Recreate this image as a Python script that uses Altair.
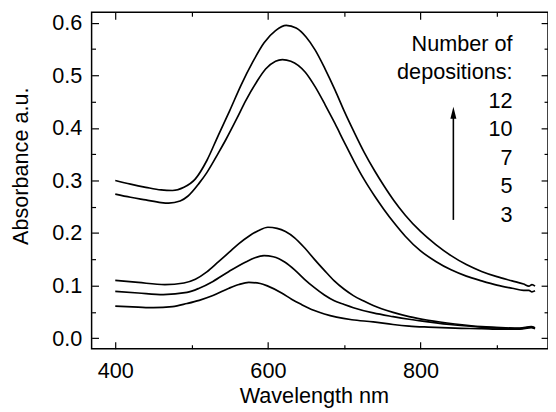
import altair as alt
import pandas as pd

# ---- data ----
wl_12 = [400, 420, 440, 460, 475, 490, 505, 520, 535, 550, 565, 580, 595, 610, 624, 637, 650, 662, 675, 688,
         700, 713, 726, 740, 752, 765, 780, 800, 820, 840, 860, 880, 900, 920, 935, 942, 946, 950]
abs_12 = [0.300, 0.293, 0.287, 0.282, 0.281, 0.287, 0.303, 0.338, 0.386, 0.433, 0.482, 0.525, 0.562, 0.585, 0.595,
          0.590, 0.573, 0.548, 0.512, 0.472, 0.432, 0.392, 0.354, 0.318, 0.290, 0.262, 0.234, 0.203, 0.178, 0.157,
          0.140, 0.127, 0.117, 0.109, 0.103, 0.099, 0.102, 0.099]

wl_10 = [400, 420, 440, 460, 470, 485, 495, 510, 520, 535, 545, 560, 571, 585, 597, 610, 619, 630, 649, 662,
         675, 688, 700, 713, 726, 740, 752, 765, 780, 800, 820, 840, 860, 880, 900, 920, 935, 942, 946, 950]
abs_10 = [0.274, 0.268, 0.263, 0.258, 0.257, 0.261, 0.270, 0.295, 0.315, 0.352, 0.378, 0.420, 0.452, 0.487, 0.512,
          0.527, 0.530, 0.527, 0.506, 0.478, 0.444, 0.408, 0.373, 0.336, 0.302, 0.270, 0.245, 0.220, 0.194, 0.166,
          0.146, 0.130, 0.118, 0.109, 0.101, 0.095, 0.091, 0.091, 0.088, 0.090]

wl_7 = [400, 430, 465, 490, 505, 520, 535, 549, 562, 575, 588, 600, 612, 623, 635, 648, 661, 674, 687, 700,
        712, 725, 738, 764, 785, 810, 845, 880, 905, 930, 945, 950]
abs_7 = [0.110, 0.106, 0.102, 0.105, 0.112, 0.126, 0.145, 0.163, 0.180, 0.194, 0.205, 0.211, 0.209, 0.203, 0.191,
         0.172, 0.150, 0.129, 0.109, 0.093, 0.081, 0.071, 0.062, 0.049, 0.041, 0.034, 0.027, 0.022, 0.020, 0.019,
         0.022, 0.020]

wl_5 = [400, 430, 463, 494, 510, 528, 549, 571, 583, 595, 607, 623, 635, 648, 661, 674, 687, 700, 712, 738,
        764, 785, 810, 845, 880, 905, 930, 945, 950]
abs_5 = [0.089, 0.086, 0.083, 0.087, 0.095, 0.108, 0.127, 0.145, 0.153, 0.157, 0.155, 0.144, 0.130, 0.112, 0.096,
         0.082, 0.071, 0.064, 0.058, 0.048, 0.041, 0.036, 0.031, 0.025, 0.021, 0.019, 0.018, 0.021, 0.019]

wl_3 = [400, 430, 450, 475, 494, 510, 528, 549, 562, 575, 590, 600, 618, 631, 644, 660, 674, 690, 710, 738,
        764, 785, 810, 845, 880, 905, 930, 945, 950]
abs_3 = [0.061, 0.059, 0.058, 0.060, 0.066, 0.072, 0.081, 0.095, 0.102, 0.106, 0.104, 0.099, 0.086, 0.074, 0.064,
         0.053, 0.046, 0.040, 0.035, 0.031, 0.026, 0.023, 0.021, 0.019, 0.018, 0.017, 0.017, 0.020, 0.018]

curve_names = ["12", "10", "7", "5", "3"]
curve_wl = [wl_12, wl_10, wl_7, wl_5, wl_3]
curve_abs = [abs_12, abs_10, abs_7, abs_5, abs_3]

x_major = [400, 600, 800]
x_minor = [500, 700, 900]
y_major = [0.0, 0.1, 0.2, 0.3, 0.4, 0.5, 0.6]
y_minor = [0.05, 0.15, 0.25, 0.35, 0.45, 0.55]

legend_lines = ["Number of", "depositions:", "12", "10", "7", "5", "3"]

rows = []
for name, wls, vals in zip(curve_names, curve_wl, curve_abs):
    for w, a in zip(wls, vals):
        rows.append({"curve": name, "wl": w, "A": a})
df = pd.DataFrame(rows)

FONT = "Liberation Sans"
FS = 22

xscale = alt.Scale(domain=[369, 967], nice=False, zero=False)
yscale = alt.Scale(domain=[-0.02, 0.62], nice=False, zero=False)


def ax(orient, values, size, labels=False, **kw):
    return alt.Axis(orient=orient, values=values, tickSize=size, offset=-size, domain=False, grid=False,
                    labels=labels, ticks=True, tickColor="black", tickWidth=1.2,
                    labelFont=FONT, labelFontSize=FS, labelColor="black", **kw)


# main lines with labelled bottom/left axes
lines = alt.Chart(df).mark_line(color="black", strokeWidth=1.7, interpolate="monotone").encode(
    x=alt.X("wl:Q", scale=xscale,
            axis=ax("bottom", x_major, 7, labels=True, labelPadding=12, title="Wavelength nm",
                    titleFont=FONT, titleFontSize=FS, titleColor="black", titleFontWeight="normal",
                    titleX=226, titleY=62, titleBaseline="alphabetic")),
    y=alt.Y("A:Q", scale=yscale,
            axis=ax("left", y_major, 7, labels=True, labelPadding=10, format=".1f", title="Absorbance a.u.",
                    titleFont=FONT, titleFontSize=FS, titleColor="black", titleFontWeight="normal",
                    titleX=-72, titleY=156, titleBaseline="alphabetic", titleAngle=270)),
    detail="curve:N",
)


def tick_layer(xo, xv, xs, yo, yv, ys):
    return alt.Chart(df).mark_point(opacity=0).encode(
        x=alt.X("wl:Q", scale=xscale, title=None, axis=ax(xo, xv, xs)),
        y=alt.Y("A:Q", scale=yscale, title=None, axis=ax(yo, yv, ys)),
    )


minor_bl = tick_layer("bottom", x_minor, 4, "left", y_minor, 4)
major_tr = tick_layer("top", x_major, 7, "right", y_major, 7)
minor_tr = tick_layer("top", x_minor, 4, "right", y_minor, 4)

# annotation text and arrow
ann_df = pd.DataFrame({"wl": [920.5], "A": [0.547]})
ann = alt.Chart(ann_df).mark_text(text=legend_lines, align="right", baseline="alphabetic", font=FONT,
                                  fontSize=FS, lineHeight=29, color="black").encode(
    x=alt.X("wl:Q", scale=xscale, axis=None), y=alt.Y("A:Q", scale=yscale, axis=None))

arrow_df = pd.DataFrame({"wl": [843], "A": [0.225], "A2": [0.429]})
arrow_shaft = alt.Chart(arrow_df).mark_rule(color="black", strokeWidth=1.6).encode(
    x=alt.X("wl:Q", scale=xscale, axis=None), y=alt.Y("A:Q", scale=yscale, axis=None), y2="A2:Q")
arrow_head = alt.Chart(arrow_df).mark_point(shape="M0,-1L-0.5,1L0.5,1Z", size=150, filled=True,
                                            color="black", opacity=1).encode(
    x=alt.X("wl:Q", scale=xscale, axis=None), y=alt.Y("A2:Q", scale=yscale, axis=None))

chart = alt.layer(lines, minor_bl, major_tr, minor_tr, ann, arrow_shaft, arrow_head).resolve_axis(
    x="independent", y="independent"
).properties(
    width=464, height=342,
    autosize=alt.AutoSizeParams(type="none"),
    padding={"left": 85, "top": 1, "right": 0, "bottom": 60},
).configure_view(stroke="black", strokeWidth=1.5)

chart.save("out.html", embed_options={"renderer": "svg", "actions": False})
